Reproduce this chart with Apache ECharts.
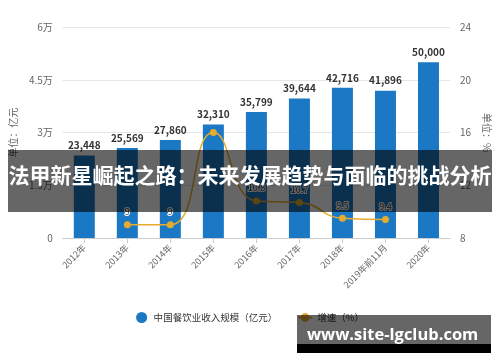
<!DOCTYPE html>
<html><head><meta charset="utf-8">
<script src="https://cdn.jsdelivr.net/npm/echarts@6/dist/echarts.min.js"></script>
<style>html,body{margin:0;padding:0;background:#fff}#c{width:500px;height:362px}</style>
</head><body><div id="c"></div>
<script>
const categories = ['2012年','2013年','2014年','2015年','2016年','2017年','2018年','2019年前11月','2020年'];
const revenue = [23448,25569,27860,32310,35799,39644,42716,41896,50000];
const growth = [null,9.0,9.0,16.0,10.8,10.7,9.5,9.4,null];
const growthLabels = [null,'9','9','','10.8','10.7','9.5','9.4',null];
const leftTicks = ['0','1.5万','3万','4.5万','6万'];
const rightTicks = ['8','12','16','20','24'];
const bannerTitle = '法甲新星崛起之路：未来发展趋势与面临的挑战分析';
const watermark = 'www.site-lgclub.com';

const chart = echarts.init(document.getElementById('c'));
const font = '"Microsoft YaHei","Noto Sans CJK SC",sans-serif';
chart.setOption({
  animation:false,
  textStyle:{fontFamily:font},
  grid:{left:60,right:45,top:27,bottom:124},
  legend:{bottom:34,left:'center',itemGap:20,itemWidth:14,itemHeight:11,
    textStyle:{fontSize:9.5,color:'#333',fontFamily:font},
    data:[{name:'中国餐饮业收入规模（亿元）',icon:'circle'},{name:'增速（%）'}]},
  xAxis:{type:'category',data:categories,
    axisLine:{lineStyle:{color:'#ccc'}},axisTick:{show:true,alignWithLabel:true,lineStyle:{color:'#ccc'}},
    axisLabel:{rotate:45,fontSize:9,color:'#666',interval:0,margin:8}},
  yAxis:[
    {type:'value',min:0,max:60000,interval:15000,name:'单位：亿元',nameLocation:'middle',nameRotate:90,nameGap:40,
     nameTextStyle:{fontSize:10,color:'#666'},
     axisLabel:{fontSize:10,color:'#666',margin:10,formatter:(v,i)=>leftTicks[i]},
     axisLine:{show:false},axisTick:{show:false},splitLine:{lineStyle:{color:'#e6e6e6'}}},
    {type:'value',min:8,max:24,interval:4,name:'单位：%',nameLocation:'middle',nameRotate:-90,nameGap:28,
     nameTextStyle:{fontSize:10,color:'#666'},
     axisLabel:{fontSize:10,color:'#666',margin:10,formatter:(v,i)=>rightTicks[i]},
     axisLine:{show:false},axisTick:{show:false},splitLine:{show:false}}
  ],
  series:[
    {name:'中国餐饮业收入规模（亿元）',type:'bar',data:revenue,barWidth:21,
     itemStyle:{color:'#1a78c4'},
     label:{show:true,position:'top',fontSize:10,fontWeight:'bold',color:'#333',
       formatter:p=>p.value.toLocaleString('en-US')}},
    {name:'增速（%）',type:'line',yAxisIndex:1,data:growth,smooth:true,
     symbol:'circle',symbolSize:7,
     lineStyle:{color:'#e5ac2e',width:1.5},itemStyle:{color:'#e5ac2e'},
     label:{show:true,position:'top',fontSize:9,color:'#333',textBorderColor:'#fff',textBorderWidth:2,
       formatter:p=>growthLabels[p.dataIndex]||''}}
  ],
  graphic:[
    {type:'rect',left:8,top:150,shape:{width:484,height:62},style:{fill:'rgba(0,0,0,0.6)'},z:100},
    {type:'text',left:'center',top:165,z:101,
     style:{text:bannerTitle,fill:'#fff',font:'bold 21px "Noto Sans CJK SC",sans-serif'}},
    {type:'rect',left:297,top:315,shape:{width:194,height:29},style:{fill:'rgba(0,0,0,0.6)'},z:100},
    {type:'rect',left:297,top:344,shape:{width:194,height:9},style:{fill:'#000'},z:100},
    {type:'text',left:307,top:327,z:101,
     style:{text:watermark,fill:'#fff',font:'bold 16.5px "Open Sans",sans-serif'}}
  ]
});
</script></body></html>
